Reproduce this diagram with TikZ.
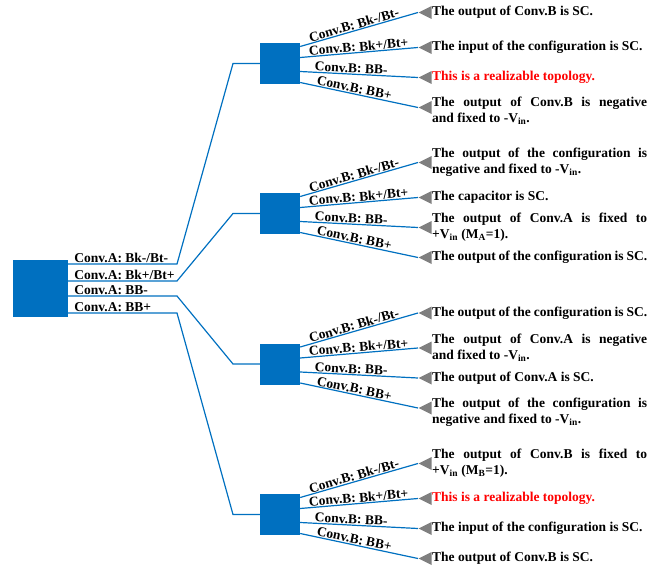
\documentclass[tikz,border=0pt]{standalone}
\usepackage{fontspec}
\setmainfont{Liberation Serif}
\usetikzlibrary{shapes.geometric,calc}
\definecolor{lblue}{HTML}{0070C0}
\definecolor{tgray}{HTML}{7F7F7F}
\definecolor{rred}{HTML}{FF0000}
\hyphenpenalty=10000
\exhyphenpenalty=10000
\tikzset{
  wire/.style={draw=lblue, line width=1.2pt},
  box/.style={fill=lblue, draw=none, inner sep=0pt, minimum width=40pt, minimum height=41pt},
  tri/.style={isosceles triangle, shape border rotate=180, fill=tgray, draw=none, inner sep=0pt,
    minimum height=13pt, minimum width=13pt, isosceles triangle stretches, anchor=apex},
  res/.style={anchor=west, text width=215pt, align=justify, inner sep=0pt,
    font=\fontsize{13.5}{16}\selectfont\bfseries},
  lbl/.style={font=\fontsize{13.5}{15}\selectfont\bfseries, inner sep=0.6pt},
}
\newcommand\subtree[7]{%
  \node[box] (s#1) at (280,#2) {};
  \coordinate (m#1) at (233,#2);
  \node[tri] (t#1a) at (418,{#2-51}) {};
  \node[tri] (t#1b) at (418,{#2-16}) {};
  \node[tri] (t#1c) at (418,{#2+14}) {};
  \node[tri] (t#1d) at (418,{#2+44}) {};
  \draw[wire] ($(s#1.east)+(0,-17)$) -- node[lbl, sloped, above, pos=.47] {Conv.B: Bk-/Bt-} (t#1a.apex);
  \draw[wire] ($(s#1.east)+(0,-6)$) -- node[lbl, sloped, above, pos=.5] {Conv.B: Bk+/Bt+} (t#1b.apex);
  \draw[wire] ($(s#1.east)+(0,8)$) -- node[lbl, sloped, above, pos=.43] {Conv.B: BB-} (t#1c.apex);
  \draw[wire] ($(s#1.east)+(0,19)$) -- node[lbl, sloped, above, pos=.45] {Conv.B: BB+} (t#1d.apex);
  \node[res] (r#1a) at (432,{#2-51}) {#3};
  \node[res] (r#1b) at (432,{#2-16}) {#4};
  \node[res] (r#1c) at (432,{#2+14}) {#5};
  \node[res] (r#1d) at (432,{#2+44+#7}) {#6};
}
\begin{document}
\begin{tikzpicture}[x=1pt,y=-1pt]
\useasboundingbox (0,0) rectangle (667,567);
\node[box, minimum width=55pt, minimum height=57pt] (root) at (40.5,288.5) {};

\subtree{1}{63.5}{The output of Conv.B is SC.}{The input of the configuration is SC.}{\color{rred}This is a realizable topology.}{The output of Conv.B is negative \linebreak and fixed to -V\textsubscript{in}.}{3}
\subtree{2}{213.5}{The output of the configuration is \linebreak negative and fixed to -V\textsubscript{in}.}{The capacitor is SC.}{The output of Conv.A is fixed to \linebreak +V\textsubscript{in} (M\textsubscript{A}=1).}{The output of the configuration is SC.}{0}
\subtree{3}{364}{The output of the configuration is SC.}{The output of Conv.A is negative \linebreak and fixed to -V\textsubscript{in}.}{The output of Conv.A is SC.}{The output of the configuration is \linebreak negative and fixed to -V\textsubscript{in}.}{4}
\subtree{4}{514.5}{The output of Conv.B is fixed to \linebreak +V\textsubscript{in} (M\textsubscript{B}=1).}{\color{rred}This is a realizable topology.}{The input of the configuration is SC.}{The output of Conv.B is SC.}{0}

\coordinate (k1) at (177,264);
\coordinate (k2) at (177,281);
\coordinate (k3) at (177,296);
\coordinate (k4) at (177,313);
\draw[wire] (root.east |- k1) -- node[lbl, pos=0, anchor=south west, xshift=5pt] {Conv.A: Bk-/Bt-} (k1) -- (m1) -- (s1.west);
\draw[wire] (root.east |- k2) -- node[lbl, pos=0, anchor=south west, xshift=5pt] {Conv.A: Bk+/Bt+} (k2) -- (m2) -- (s2.west);
\draw[wire] (root.east |- k3) -- node[lbl, pos=0, anchor=south west, xshift=5pt] {Conv.A: BB-} (k3) -- (m3) -- (s3.west);
\draw[wire] (root.east |- k4) -- node[lbl, pos=0, anchor=south west, xshift=5pt] {Conv.A: BB+} (k4) -- (m4) -- (s4.west);
\end{tikzpicture}
\end{document}
